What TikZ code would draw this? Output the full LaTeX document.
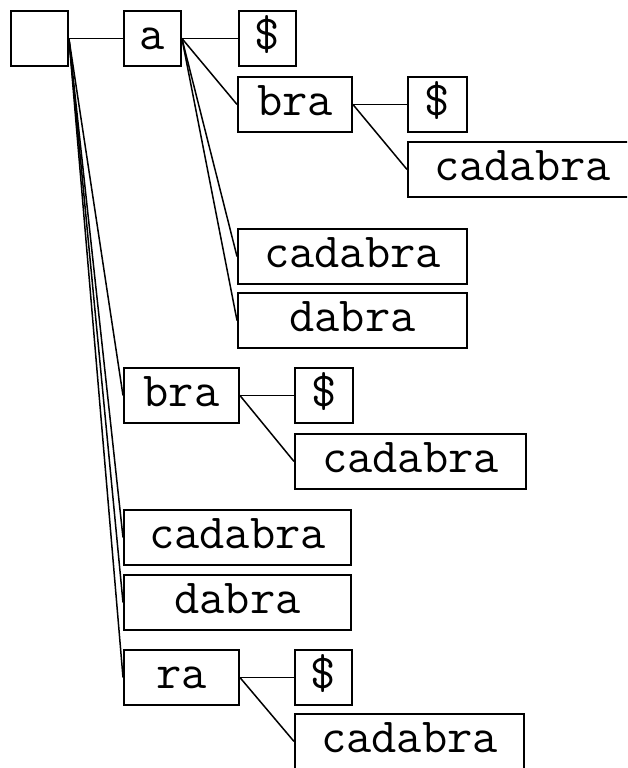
\documentclass[tikz,border=0pt]{standalone}
\begin{document}
\begin{tikzpicture}[x=1pt,y=-1pt,
  box/.style={draw, line width=1.9pt, inner sep=0pt, anchor=north west,
    text height=39pt, text depth=16pt,
    font=\ttfamily\fontsize{49}{49}\selectfont},
  sbox/.style={box, minimum width=57pt},
  mbox/.style={box, minimum width=115pt},
  lbox/.style={box, minimum width=229pt},
  link/.style={line width=1.5pt}]
\useasboundingbox (0,0) rectangle (627,768);
\clip (0,0) rectangle (627,768);

% root and first level
\node[sbox] (root) at (10,10) {};
\node[sbox] (a) at (123,10) {a};
\node[mbox] (bra) at (123,367) {bra};
\node[lbox, minimum width=227pt] (cad) at (123,509) {cadabra};
\node[lbox, minimum width=227pt] (dab) at (123,574) {dabra};
\node[mbox] (ra) at (123,649) {ra};

% children of a
\node[sbox] (aS) at (238,10) {\$};
\node[mbox, minimum width=114pt] (abra) at (237,76) {bra};
\node[lbox] (acad) at (237,228) {cadabra};
\node[lbox] (adab) at (237,292) {dabra};

% children of a/bra
\node[sbox, minimum width=59pt] (abraS) at (407,76) {\$};
\node[lbox] (abracad) at (407,141) {cadabra};

% children of bra
\node[sbox, minimum width=58pt] (braS) at (294,367) {\$};
\node[lbox, minimum width=231pt] (bracad) at (294,433) {cadabra};

% children of ra
\node[sbox] (raS) at (294,649) {\$};
\node[lbox] (racad) at (294,713) {cadabra};

% connectors
\foreach \c in {a,bra,cad,dab,ra}
  \draw[link] (root.east) -- (\c.west);
\foreach \c in {aS,abra,acad,adab}
  \draw[link] (a.east) -- (\c.west);
\foreach \c in {abraS,abracad}
  \draw[link] (abra.east) -- (\c.west);
\foreach \c in {braS,bracad}
  \draw[link] (bra.east) -- (\c.west);
\foreach \c in {raS,racad}
  \draw[link] (ra.east) -- (\c.west);
\end{tikzpicture}
\end{document}
